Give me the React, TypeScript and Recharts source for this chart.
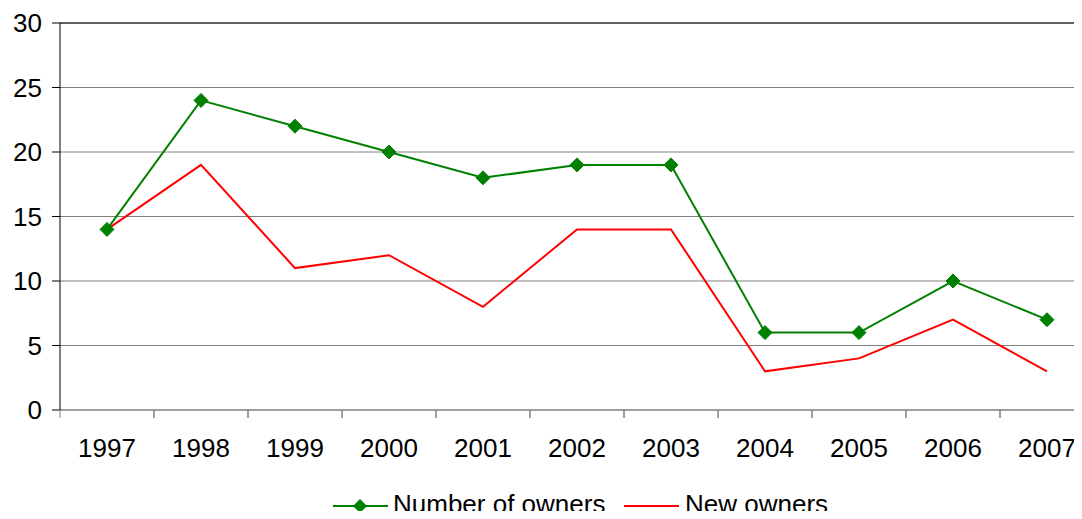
import { LineChart, Line, XAxis, YAxis, CartesianGrid, Legend, ReferenceLine } from 'recharts';

// values
const years = ['1997', '1998', '1999', '2000', '2001', '2002', '2003', '2004', '2005', '2006', '2007'];
const numberOfOwners = [14, 24, 22, 20, 18, 19, 19, 6, 6, 10, 7];
const newOwners = [14, 19, 11, 12, 8, 14, 14, 3, 4, 7, 3];
const yTicks = [0, 5, 10, 15, 20, 25, 30];

const data = years.map((year, i) => ({
  year,
  owners: numberOfOwners[i],
  newOwners: newOwners[i],
}));

const GREEN = '#008000';
const RED = '#ff0000';
const FONT = 'Liberation Sans, Arial, sans-serif';
const HALF_BAND = 47;

const Diamond = (props: any) => {
  const { cx, cy } = props;
  if (cx == null || cy == null) return null;
  const r = 7;
  return <path d={`M${cx},${cy - r}L${cx + r},${cy}L${cx},${cy + r}L${cx - r},${cy}Z`} fill={GREEN} stroke={GREEN} />;
};

// label centred on the category, tick mark on the category boundary
const XTick = (props: any) => {
  const { x, y, payload } = props;
  return (
    <g>
      <line x1={x - HALF_BAND} x2={x - HALF_BAND} y1={y - 29} y2={y - 21} stroke="#808080" />
      <line x1={x + HALF_BAND} x2={x + HALF_BAND} y1={y - 29} y2={y - 21} stroke="#808080" />
      <text x={x} y={y} dy="0.71em" textAnchor="middle" fontSize={26} fill="#000">
        {payload.value}
      </text>
    </g>
  );
};

const LegendContent = () => (
  <svg width={1082} height={34} style={{ display: 'block' }}>
    <line x1={333} x2={388} y1={21} y2={21} stroke={GREEN} strokeWidth={2} />
    <path d="M360,14L367,21L360,28L353,21Z" fill={GREEN} />
    <text x={393} y={28} fontSize={26} fontFamily={FONT} fill="#000">Number of owners</text>
    <line x1={624} x2={679} y1={21} y2={21} stroke={RED} strokeWidth={2} />
    <text x={685} y={28} fontSize={26} fontFamily={FONT} fill="#000">New owners</text>
  </svg>
);

export default function App() {
  return (
    <div style={{ margin: -8, width: 1082, height: 519, overflow: 'hidden', background: '#fff' }}>
      <LineChart
        width={1100}
        height={519}
        data={data}
        margin={{ top: 23, right: 6, bottom: 0, left: 0 }}
        style={{ fontFamily: FONT }}
      >
        <CartesianGrid vertical={false} stroke="#808080" />
        <ReferenceLine y={30} stroke="#000" />
        <XAxis
          dataKey="year"
          stroke="#808080"
          tickLine={false}
          tickSize={8}
          tickMargin={21}
          height={75}
          padding={{ left: HALF_BAND, right: HALF_BAND }}
          tick={<XTick />}
          interval={0}
        />
        <YAxis
          domain={[0, 30]}
          ticks={yTicks}
          stroke="#000"
          tickSize={8}
          tickMargin={10}
          width={60}
          tick={{ fill: '#000', fontSize: 26 }}
          interval={0}
        />
        <Legend
          verticalAlign="bottom"
          height={34}
          content={<LegendContent />}
          wrapperStyle={{ left: 0, top: 485, bottom: 'auto', width: 1082, height: 34 }}
        />
        <Line
          dataKey="owners"
          name="Number of owners"
          stroke={GREEN}
          strokeWidth={2}
          dot={<Diamond />}
          activeDot={false}
          isAnimationActive={false}
        />
        <Line
          dataKey="newOwners"
          name="New owners"
          stroke={RED}
          strokeWidth={2}
          dot={false}
          activeDot={false}
          isAnimationActive={false}
        />
      </LineChart>
    </div>
  );
}
